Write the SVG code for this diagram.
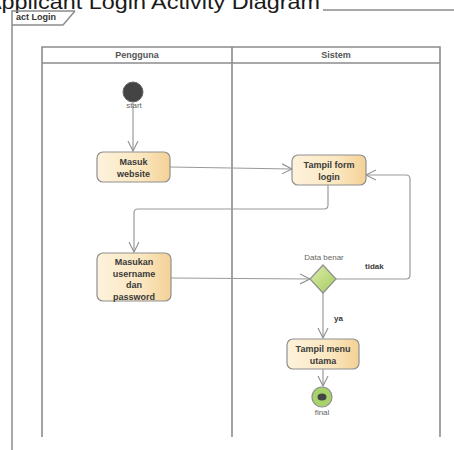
<svg xmlns="http://www.w3.org/2000/svg" width="454" height="450" viewBox="0 0 454 450">
<style>
.frame{fill:none;stroke:#8c8c8c;stroke-width:1.5}
.lane{fill:none;stroke:#8c8c8c;stroke-width:1.6}
.hdr{font-family:"Liberation Sans",Arial,sans-serif;font-size:9px;font-weight:bold;fill:#555;text-anchor:middle}
.act{stroke:#8f8f8f;stroke-width:1.2;fill:url(#actg)}
.lbl{font-family:"Liberation Sans",Arial,sans-serif;font-size:9px;font-weight:bold;fill:#3a3a3a;text-anchor:middle}
.sm{font-family:"Liberation Sans",Arial,sans-serif;font-size:8px;fill:#666;text-anchor:middle}
.edge{fill:none;stroke:#9a9a9a;stroke-width:1.2}
.guard{font-family:"Liberation Sans",Arial,sans-serif;font-size:8px;font-weight:bold;fill:#3a3a3a}
</style>
<defs>
<linearGradient id="actg" x1="0" y1="0" x2="1" y2="0">
<stop offset="0" stop-color="#fdf2dc"/>
<stop offset="0.6" stop-color="#fbe7c0"/>
<stop offset="1" stop-color="#f4d196"/>
</linearGradient>
<linearGradient id="decg" x1="0" y1="0" x2="1" y2="1">
<stop offset="0" stop-color="#dcedae"/>
<stop offset="1" stop-color="#a6cb5c"/>
</linearGradient>
<marker id="arr" markerWidth="12" markerHeight="12" refX="10" refY="5" orient="auto" markerUnits="userSpaceOnUse" viewBox="0 0 12 10">
<path d="M0,0 L10,5 L0,10" fill="none" stroke="#8f8f8f" stroke-width="1.1"/>
</marker>
</defs>
<rect width="454" height="450" fill="#fff"/>
<text x="-14" y="9" font-family="Liberation Sans,Arial,sans-serif" font-size="20" fill="#1a1a1a" textLength="334" lengthAdjust="spacingAndGlyphs">Applicant Login Activity Diagram</text>
<g id="frame">
<path class="frame" d="M12,450 V11 H75 M323,10 H454"/>
<path class="frame" d="M12,25 H63 L75,11"/>
<text x="16" y="20" font-family="Liberation Sans,Arial,sans-serif" font-size="9" font-weight="bold" fill="#333">act Login</text>
</g>
<g id="lanes">
<path class="lane" d="M42,437 V47 H440 V437 M42,63 H440 M232,47 V437"/>
<text class="hdr" x="137" y="58">Pengguna</text>
<text class="hdr" x="336" y="58">Sistem</text>
</g>
<g id="connectors">
<path class="edge" d="M133,103 V151" marker-end="url(#arr)"/>
<path class="edge" d="M170,167 L292,169" marker-end="url(#arr)"/>
<path class="edge" d="M328,185 V205 Q328,209 324,209 H138 Q134,209 134,213 V252" marker-end="url(#arr)"/>
<path class="edge" d="M171,278 L310,279" marker-end="url(#arr)"/>
<path class="edge" d="M336,279 H406 Q410,279 410,275 V179 Q410,175 406,175 H366" marker-end="url(#arr)"/>
<path class="edge" d="M323,293 V338" marker-end="url(#arr)"/>
<path class="edge" d="M323,369 V386" marker-end="url(#arr)"/>
<text class="guard" x="365" y="269">tidak</text>
<text class="guard" x="334" y="321">ya</text>
</g>
<g id="start">
<circle cx="133" cy="92" r="10" fill="#444" stroke="#666" stroke-width="1"/>
<text class="sm" x="134" y="108">start</text>
</g>
<g id="masuk-website">
<rect class="act" x="97" y="152" width="73" height="30" rx="6"/>
<text class="lbl" x="133.5" y="165">Masuk</text>
<text class="lbl" x="133.5" y="177">website</text>
</g>
<g id="tampil-form-login">
<rect class="act" x="292" y="155" width="74" height="30" rx="6"/>
<text class="lbl" x="329" y="168">Tampil form</text>
<text class="lbl" x="329" y="180">login</text>
</g>
<g id="masukan">
<rect class="act" x="97" y="253" width="74" height="48" rx="6"/>
<text class="lbl" x="134" y="265">Masukan</text>
<text class="lbl" x="134" y="276.5">username</text>
<text class="lbl" x="134" y="288">dan</text>
<text class="lbl" x="134" y="299.5">password</text>
</g>
<g id="decision">
<path d="M323,265 L336,279 L323,293 L310,279 Z" fill="url(#decg)" stroke="#8f8f8f" stroke-width="1.2"/>
<text class="sm" x="324" y="260">Data benar</text>
</g>
<g id="tampil-menu-utama">
<rect class="act" x="287" y="339" width="72" height="30" rx="6"/>
<text class="lbl" x="323" y="352">Tampil menu</text>
<text class="lbl" x="323" y="364">utama</text>
</g>
<g id="final">
<circle cx="322" cy="397" r="10" fill="#a8d26a" stroke="#8f8f8f" stroke-width="1.2"/>
<ellipse cx="322" cy="397" rx="4.5" ry="3.5" fill="#444"/>
<text class="sm" x="322" y="415">final</text>
</g>
</svg>
